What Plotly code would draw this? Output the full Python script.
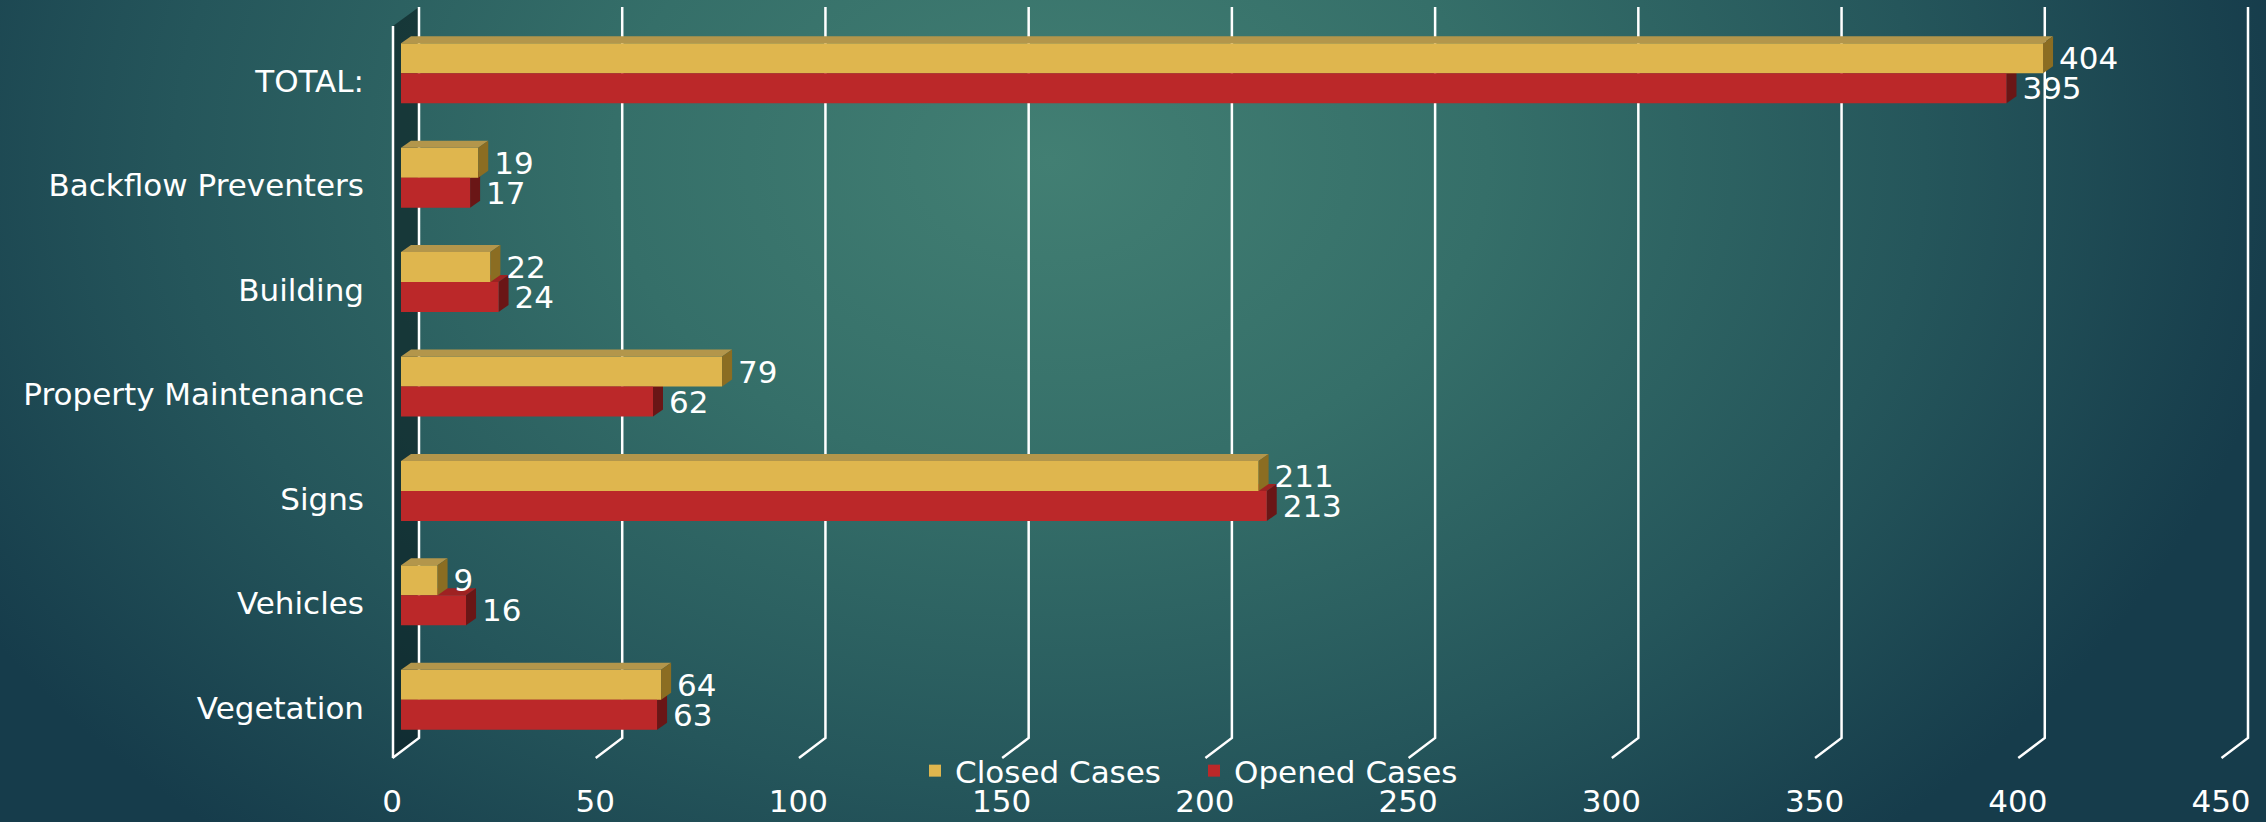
import base64
import plotly.graph_objects as go

# ---------------- data ----------------
categories = ["TOTAL:", "Backflow Preventers", "Building", "Property Maintenance",
              "Signs", "Vehicles", "Vegetation"]
closed_cases = [404, 19, 22, 79, 211, 9, 64]
opened_cases = [395, 17, 24, 62, 213, 16, 63]
x_tick_vals = [0, 50, 100, 150, 200, 250, 300, 350, 400, 450]
x_tick_text = ["0", "50", "100", "150", "200", "250", "300", "350", "400", "450"]
series_names = ["Closed Cases", "Opened Cases"]

# ---------------- layout constants ----------------
W, H = 2266, 822
L, R_PX = 401, 2230
T, B_PX = 21, 752
PLOT_W = R_PX - L
PLOT_H = B_PX - T
XMAX = 450
SX = PLOT_W / XMAX                      # px per unit
N = len(categories)
CAT_PX = PLOT_H / N                     # px per category
BARGAP = 1 - 60 / CAT_PX
BW = (1 - BARGAP) / 2                   # bar width in category units
DX = 10 / SX                            # 3D depth in x units
DY = 7 / CAT_PX                         # 3D depth in category units

FONT = "'DejaVu Sans', Lato, sans-serif"
FS = 31
WHITE = "#ffffff"
YEL, YEL_TOP, YEL_SIDE = "#dfb64e", "#b3964b", "#8b6d22"
RED, RED_TOP, RED_SIDE = "#bb2829", "#9e2222", "#6a1616"


def pxx(px):
    return (px - L) / PLOT_W


def pxy(py):
    return (B_PX - py) / PLOT_H


# ---------------- background (radial gradient) ----------------
svg = f'''<svg xmlns="http://www.w3.org/2000/svg" width="{W}" height="{H}" viewBox="0 0 {W} {H}" preserveAspectRatio="none">
<defs><radialGradient id="g" cx="1050" cy="160" r="1250" gradientUnits="userSpaceOnUse"
 gradientTransform="translate(1050,160) scale(1,0.72) translate(-1050,-160)">
<stop offset="0" stop-color="#427f73"/>
<stop offset="0.35" stop-color="#356f69"/>
<stop offset="0.7" stop-color="#25565b"/>
<stop offset="1" stop-color="#163c4b"/>
</radialGradient></defs>
<rect x="0" y="0" width="{W}" height="{H}" fill="url(#g)"/></svg>'''
bg_src = "data:image/svg+xml;base64," + base64.b64encode(svg.encode()).decode()

fig = go.Figure()

fig.add_trace(go.Bar(
    name=series_names[0], y=categories, x=closed_cases, orientation="h",
    marker=dict(color=YEL, line=dict(width=0)),
    text=closed_cases, texttemplate="\u00a0\u200a%{text}", textposition="outside",
    textfont=dict(family=FONT, size=FS, color=WHITE),
    constraintext="none", cliponaxis=False, hoverinfo="x+name",
))
fig.add_trace(go.Bar(
    name=series_names[1], y=categories, x=opened_cases, orientation="h",
    marker=dict(color=RED, line=dict(width=0)),
    text=opened_cases, texttemplate="\u00a0\u200a%{text}", textposition="outside",
    textfont=dict(family=FONT, size=FS, color=WHITE),
    constraintext="none", cliponaxis=False, hoverinfo="x+name",
))

shapes = []
# side wall (dark strip between front axis and back wall)
shapes.append(dict(
    type="path", xref="paper", yref="paper", layer="below",
    path=(f"M{pxx(393)},{pxy(26)} L{pxx(419)},{pxy(7)} L{pxx(419)},{pxy(738)} "
          f"L{pxx(393)},{pxy(758)} Z"),
    fillcolor="rgba(5,22,24,0.55)", line=dict(width=0),
))
# back-wall gridlines with floor diagonals
for v in x_tick_vals:
    bx = L + v * SX + 18
    fx = bx - 26.5
    shapes.append(dict(
        type="path", xref="paper", yref="paper", layer="below",
        path=f"M{pxx(bx)},{pxy(7)} L{pxx(bx)},{pxy(738)} L{pxx(fx)},{pxy(758)}",
        line=dict(color=WHITE, width=2.5),
    ))
# front axis line
shapes.append(dict(
    type="line", xref="paper", yref="paper", layer="below",
    x0=pxx(393), x1=pxx(393), y0=pxy(26), y1=pxy(758),
    line=dict(color=WHITE, width=2.5),
))

# 3D faces for bars
for i, (c, o) in enumerate(zip(closed_cases, opened_cases)):
    ytop = i
    ybot = i + BW
    shapes.append(dict(
        type="path", xref="x", yref="y", layer="below",
        path=f"M0,{ytop} L{o},{ytop} L{o + DX},{ytop - DY} L{DX},{ytop - DY} Z",
        fillcolor=RED_TOP, line=dict(width=0),
    ))
    shapes.append(dict(
        type="path", xref="x", yref="y", layer="below",
        path=f"M{o},{ytop} L{o + DX},{ytop - DY} L{o + DX},{ybot - DY} L{o},{ybot} Z",
        fillcolor=RED_SIDE, line=dict(width=0),
    ))
    ytop = i - BW
    ybot = i
    shapes.append(dict(
        type="path", xref="x", yref="y", layer="above",
        path=f"M0,{ytop} L{c},{ytop} L{c + DX},{ytop - DY} L{DX},{ytop - DY} Z",
        fillcolor=YEL_TOP, line=dict(width=0),
    ))
    shapes.append(dict(
        type="path", xref="x", yref="y", layer="above",
        path=f"M{c},{ytop} L{c + DX},{ytop - DY} L{c + DX},{ybot - DY} L{c},{ybot} Z",
        fillcolor=YEL_SIDE, line=dict(width=0),
    ))

fig.update_layout(
    width=W, height=H,
    margin=dict(l=L, r=W - R_PX, t=T, b=H - B_PX, autoexpand=False),
    paper_bgcolor="#25565b",
    plot_bgcolor="rgba(0,0,0,0)",
    barmode="group", bargap=BARGAP, bargroupgap=0,
    font=dict(family=FONT, size=FS, color=WHITE),
    showlegend=True,
    legend=dict(
        orientation="h", x=pxx(915), xanchor="left", y=pxy(771), yanchor="middle",
        font=dict(family=FONT, size=FS, color=WHITE),
        bgcolor="rgba(0,0,0,0)", itemclick=False, itemdoubleclick=False,
        tracegroupgap=0, itemwidth=30, entrywidth=234, entrywidthmode="pixels",
    ),
    xaxis=dict(
        range=[0, XMAX], tickvals=x_tick_vals, ticktext=x_tick_text,
        showgrid=False, zeroline=False, showline=False, ticks="",
        ticklabelshift=-9, ticklabelstandoff=28,
        tickfont=dict(family=FONT, size=FS, color=WHITE),
    ),
    yaxis=dict(
        type="category", categoryorder="array", categoryarray=categories,
        range=[N - 0.5, -0.5],
        showgrid=False, zeroline=False, showline=False, ticks="",
        ticklabelstandoff=36, ticklabelshift=-8,
        tickfont=dict(family=FONT, size=FS, color=WHITE),
    ),
    images=[dict(
        source=bg_src, xref="paper", yref="paper",
        x=pxx(0), y=pxy(0), sizex=W / PLOT_W, sizey=H / PLOT_H,
        xanchor="left", yanchor="top", sizing="stretch", layer="below",
    )],
    shapes=shapes,
)

fig.write_html(
    "out.html",
    config={"displayModeBar": False},
    post_script="document.body.style.margin='0';document.body.style.padding='0';"
                "document.documentElement.style.margin='0';",
)
